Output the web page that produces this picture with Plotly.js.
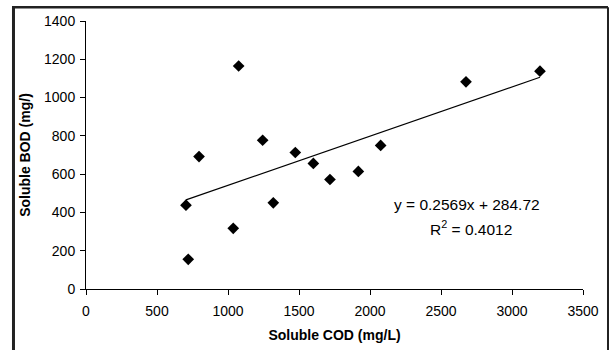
<!DOCTYPE html>
<html>
<head>
<meta charset="utf-8">
<script src="https://cdn.plot.ly/plotly-3.0.1.min.js"></script>
<style>
html,body{margin:0;padding:0;background:#fff;}
#chart{width:612px;height:350px;}
</style>
</head>
<body>
<div id="chart"></div>
<script>
// Data
var codValues = [704, 720, 796, 1037, 1075, 1244, 1319, 1474, 1601, 1718, 1918, 2075, 2676, 3197];
var bodValues = [438, 155, 692, 317, 1165, 777, 450, 713, 656, 572, 614, 750, 1082, 1138];
var slope = 0.2569;
var intercept = 284.72;
var rSquared = 0.4012;
var xTickVals = [0, 500, 1000, 1500, 2000, 2500, 3000, 3500];
var yTickVals = [0, 200, 400, 600, 800, 1000, 1200, 1400];

var xMin = Math.min.apply(null, codValues);
var xMax = Math.max.apply(null, codValues);
var trendX = [xMin, xMax];
var trendY = trendX.map(function (x) { return slope * x + intercept; });

var font = {family: 'Arial, "Liberation Sans", sans-serif', color: '#000'};

var traces = [
  {
    x: codValues, y: bodValues, type: 'scatter', mode: 'markers',
    marker: {symbol: 'diamond', size: 9, color: '#000'},
    showlegend: false, hoverinfo: 'none'
  },
  {
    x: trendX, y: trendY, type: 'scatter', mode: 'lines',
    line: {color: '#000', width: 1.2},
    showlegend: false, hoverinfo: 'none'
  }
];

var layout = {
  width: 612, height: 350,
  margin: {l: 86, r: 29, t: 21, b: 61},
  paper_bgcolor: '#fff', plot_bgcolor: '#fff',
  font: {family: font.family, size: 14, color: '#000'},
  xaxis: {
    range: [0, 3500], tickvals: xTickVals, ticks: 'outside', ticklen: 5,
    tickcolor: '#000', showline: true, linecolor: '#000', linewidth: 1,
    showgrid: false, zeroline: false, automargin: false, ticklabelstandoff: 4,
    tickfont: {family: font.family, size: 14, color: '#000'},
    title: {text: 'Soluble COD (mg/L)', font: {family: font.family, size: 14, color: '#000', weight: 'bold'}, standoff: 12}
  },
  yaxis: {
    range: [0, 1400], tickvals: yTickVals, ticks: 'outside', ticklen: 5,
    tickcolor: '#000', showline: true, linecolor: '#000', linewidth: 1,
    showgrid: false, zeroline: false, automargin: false, ticklabelstandoff: 2,
    tickfont: {family: font.family, size: 14, color: '#000'},
    title: {text: 'Soluble BOD (mg/)', font: {family: font.family, size: 14, color: '#000', weight: 'bold'}, standoff: 10}
  },
  annotations: [
    {x: 2683, y: 443, xref: 'x', yref: 'y', showarrow: false,
     text: 'y = ' + slope + 'x + ' + intercept, font: {family: font.family, size: 15.5, color: '#000'}},
    {x: 2712, y: 318, xref: 'x', yref: 'y', showarrow: false,
     text: 'R<sup>2</sup> = ' + rSquared, font: {family: font.family, size: 15.5, color: '#000'}}
  ],
  shapes: [
    // outer frame (left, top, right)
    {type: 'line', xref: 'paper', yref: 'paper', x0: -0.1459, x1: -0.1459, y0: 1.051, y1: -0.25, line: {color: '#222', width: 3}},
    {type: 'line', xref: 'paper', yref: 'paper', x0: -0.1489, x1: 1.0503, y0: 1.051, y1: 1.051, line: {color: '#222', width: 2.5}},
    {type: 'line', xref: 'paper', yref: 'paper', x0: 1.0503, x1: 1.0503, y0: 1.051, y1: -0.25, line: {color: '#222', width: 2}}
  ]
};

Plotly.newPlot('chart', traces, layout, {staticPlot: true, displayModeBar: false});
</script>
</body>
</html>
